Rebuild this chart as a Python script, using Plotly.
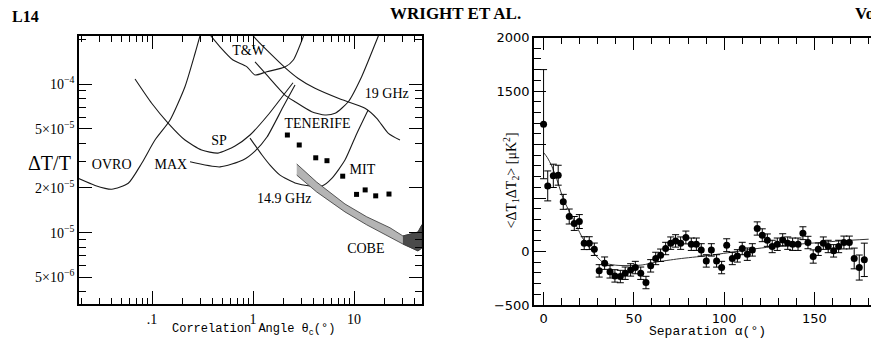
import plotly.graph_objects as go

# ---------------- LEFT PANEL: Delta T / T limits vs correlation angle ----------------
ovro_theta = [0.0186, 0.0273, 0.0399, 0.0582, 0.0791, 0.107, 0.151, 0.212, 0.267, 0.31]
ovro_dt = [2.32e-5, 2.08e-5, 1.96e-5, 2.15e-5, 2.93e-5, 4.20e-5, 5.73e-5, 9.59e-5, 1.61e-4, 2.31e-4]

sp_theta = [0.0679, 0.0993, 0.145, 0.212, 0.310, 0.450, 0.664, 0.934, 1.408, 1.937, 2.490]
sp_dt = [1.08e-4, 7.42e-5, 5.44e-5, 4.20e-5, 3.60e-5, 3.43e-5, 3.83e-5, 4.54e-5, 6.19e-5, 8.18e-5, 1.02e-4]

max_theta = [0.238, 0.471, 0.796, 1.047, 1.376, 1.982, 2.606]
max_dt = [3.00e-5, 2.77e-5, 3.08e-5, 3.54e-5, 4.40e-5, 7.00e-5, 9.85e-5]

tw_theta = [0.343, 0.471, 0.634, 0.866, 1.047, 1.366, 2.074, 2.506, 3.33]
tw_dt = [2.31e-4, 1.78e-4, 1.45e-4, 1.31e-4, 1.15e-4, 1.21e-4, 1.30e-4, 1.45e-4, 2.31e-4]

long_theta = [0.955, 1.088, 1.531, 2.074, 2.810, 4.11, 6.99, 12.85, 16.8, 21.9, 28.5]
long_dt = [2.20e-4, 1.98e-4, 1.57e-4, 1.29e-4, 1.09e-4, 9.35e-5, 8.01e-5, 6.87e-5, 5.88e-5, 4.66e-5, 4.20e-5]

g19_theta = [1.047, 1.417, 2.074, 2.606, 3.813, 5.16, 6.49, 8.78, 11.9, 16.8, 18.4]
g19_dt = [1.41e-4, 1.12e-4, 8.43e-5, 7.60e-5, 6.51e-5, 6.19e-5, 6.35e-5, 7.60e-5, 1.12e-4, 1.98e-4, 2.31e-4]

g149_theta = [0.934, 1.228, 1.474, 1.851, 2.606, 3.667, 4.821, 6.06, 8.14, 10.5, 13.8]
g149_dt = [4.33e-5, 3.33e-5, 2.85e-5, 2.44e-5, 2.16e-5, 2.06e-5, 2.06e-5, 2.33e-5, 3.08e-5, 4.54e-5, 6.68e-5]

cobe_theta = [2.71, 4.27, 8.14, 13.36, 22.7, 30.5, 43.0, 47.0]
cobe_upper = [2.90e-5, 2.19e-5, 1.56e-5, 1.28e-5, 1.08e-5, 9.51e-6, 1.01e-5, 1.13e-5]
cobe_lower = [2.44e-5, 1.88e-5, 1.38e-5, 1.13e-5, 9.36e-6, 8.39e-6, 7.54e-6, 7.89e-6]
cobe_dark_from = 5  # index where the darker end of the band begins

sq_theta = [2.19, 2.87, 4.18, 5.40, 7.73, 10.6, 12.9, 16.4, 22.2]
sq_dt = [4.54e-5, 3.89e-5, 3.19e-5, 3.05e-5, 2.40e-5, 1.81e-5, 1.94e-5, 1.77e-5, 1.82e-5]

label_text = ["T&W", "19 GHz", "TENERIFE", "SP", "MAX", "OVRO", "MIT", "14.9 GHz", "COBE"]
label_theta = [0.903, 21.1, 4.35, 0.461, 0.1535, 0.0399, 12.1, 2.04, 13.1]
label_dt = [1.65e-4, 8.47e-5, 5.32e-5, 4.08e-5, 2.85e-5, 2.85e-5, 2.64e-5, 1.66e-5, 7.66e-6]

left_x_ticks = [0.1, 1, 10]
left_x_ticktext = [".1", "1", "10"]
left_x_minor = [0.02, 0.03, 0.04, 0.05, 0.06, 0.07, 0.08, 0.09,
                0.2, 0.3, 0.4, 0.5, 0.6, 0.7, 0.8, 0.9,
                2, 3, 4, 5, 6, 7, 8, 9, 20, 30, 40]
left_y_ticks = [5e-6, 1e-5, 2e-5, 5e-5, 1e-4]
left_y_ticktext = ["5×10<sup>−6</sup>", "10<sup>−5</sup>", "2×10<sup>−5</sup>",
                   "5×10<sup>−5</sup>", "10<sup>−4</sup>"]
left_y_minor = [4e-6, 6e-6, 7e-6, 8e-6, 9e-6, 3e-5, 4e-5, 6e-5, 7e-5, 8e-5, 9e-5, 2e-4]

# ---------------- RIGHT PANEL: correlation function vs separation ----------------
alpha = [0, 2.3, 5.4, 8.1, 10.9, 14.2, 17.0, 19.8, 22.5, 25.3, 28.1, 30.8, 33.8, 36.8, 39.5,
         42.5, 45.2, 48.2, 50.8, 53.8, 56.7, 59.3, 62.1, 64.8, 67.6, 70.4, 73.1, 75.9, 78.8,
         81.8, 84.6, 87.3, 90.1, 92.9, 95.8, 98.6, 101.4, 104.5, 107.3, 110.0, 112.8, 115.6,
         118.3, 121.1, 123.9, 126.6, 129.4, 132.4, 135.2, 137.9, 140.9, 143.6, 146.4, 149.3,
         152.1, 154.9, 157.6, 160.6, 163.4, 166.3, 169.3, 172.0, 174.8, 177.6]
corr = [1190, 613, 707, 713, 464, 327, 262, 280, 78, 78, 21, -181, -109, -190, -228,
        -234, -203, -172, -150, -203, -290, -134, -65, -35, 28, 78, 99, 78, 131,
        68, 68, 15, -88, 15, -88, -150, 59, -65, -41, 28, -25, 15,
        215, 152, 106, 47, 68, 108, 78, 68, 68, 171, 84, -47,
        21, 78, 47, 6, 47, 84, 84, -65, -150, -78]
corr_err = [510, 140, 109, 93, 70, 70, 65, 65, 60, 60, 58, 58, 58, 58, 58,
            58, 58, 58, 58, 58, 58, 58, 58, 58, 58, 58, 58, 58, 60,
            58, 58, 58, 58, 58, 58, 58, 60, 58, 58, 58, 58, 58,
            62, 60, 58, 58, 58, 58, 58, 58, 58, 60, 58, 62,
            58, 58, 58, 58, 58, 60, 60, 97, 117, 156]

fit_alpha = [0, 2, 4.5, 7.3, 11, 16.4, 22, 27.5, 33, 40, 48, 55, 62, 75, 90, 105, 117, 135, 150, 165, 180]
fit_corr = [925, 880, 800, 676, 489, 302, 115, -9, -103, -128, -132, -125, -100, -68, -40, -5, 25, 60, 80, 100, 115]

right_y_ticks = [-500, 0, 500, 1000, 1500, 2000]
right_y_ticktext = ["−500", "0", "", "", "1500", "2000"]
right_x_ticks = [0, 50, 100, 150]

W, H = 871, 340
SERIF = "Liberation Serif"
MONO = "Liberation Mono"
SANS = "DejaVu Sans"

fig = go.Figure()

line_style = dict(color="#1a1a1a", width=1.1)
for tx, ty in [(ovro_theta, ovro_dt), (sp_theta, sp_dt), (max_theta, max_dt), (tw_theta, tw_dt),
               (long_theta, long_dt), (g19_theta, g19_dt), (g149_theta, g149_dt)]:
    fig.add_trace(go.Scatter(x=tx, y=ty, mode="lines", line=dict(line_style, shape="spline", smoothing=0.6),
                             xaxis="x", yaxis="y", hoverinfo="skip", showlegend=False))

# COBE band (light part then darker end)
band_x = cobe_theta + cobe_theta[::-1]
band_y = cobe_upper + cobe_lower[::-1]
fig.add_trace(go.Scatter(x=band_x, y=band_y, mode="lines", fill="toself", fillcolor="#b4b4b4",
                         line=dict(color="#333", width=0.8), xaxis="x", yaxis="y",
                         hoverinfo="skip", showlegend=False))
dx = cobe_theta[cobe_dark_from:]
fig.add_trace(go.Scatter(x=dx + dx[::-1], y=cobe_upper[cobe_dark_from:] + cobe_lower[cobe_dark_from:][::-1],
                         mode="lines", fill="toself", fillcolor="#4a4a4a",
                         line=dict(color="#333", width=0.6), xaxis="x", yaxis="y",
                         hoverinfo="skip", showlegend=False))

fig.add_trace(go.Scatter(x=sq_theta, y=sq_dt, mode="markers",
                         marker=dict(symbol="square", size=5, color="black"),
                         xaxis="x", yaxis="y", hoverinfo="skip", showlegend=False))

fig.add_trace(go.Scatter(x=label_theta, y=label_dt, mode="text", text=label_text,
                         textposition="middle center",
                         textfont=dict(family=SERIF, size=14, color="black"),
                         xaxis="x", yaxis="y", hoverinfo="skip", showlegend=False))

# Right panel
fig.add_trace(go.Scatter(x=fit_alpha, y=fit_corr, mode="lines",
                         line=dict(color="#333", width=1, shape="spline", smoothing=0.7),
                         xaxis="x2", yaxis="y2", hoverinfo="skip", showlegend=False))
fig.add_trace(go.Scatter(x=alpha, y=corr, mode="markers",
                         marker=dict(symbol="circle", size=7, color="black"),
                         error_y=dict(type="data", array=corr_err, color="black", thickness=1, width=3.5),
                         xaxis="x2", yaxis="y2", hoverinfo="skip", showlegend=False))

axis_common = dict(showline=True, linecolor="black", linewidth=1.5, ticks="inside",
                   tickcolor="black", tickwidth=1.2, showgrid=False, zeroline=False,
                   automargin=False)

fig.update_layout(
    width=W, height=H, autosize=False,
    margin=dict(l=0, r=0, t=0, b=0, pad=0),
    paper_bgcolor="white", plot_bgcolor="white",
    xaxis=dict(axis_common, domain=[79 / W, 422 / W], type="log", range=[-1.7228, 1.6733],
               mirror="ticks", ticklen=13, tickmode="array", tickvals=left_x_ticks,
               ticktext=left_x_ticktext, anchor="y",
               tickfont=dict(family=SERIF, size=14, color="black"), ticklabelstandoff=1,
               minor=dict(tickmode="array", tickvals=left_x_minor, ticks="inside", ticklen=6,
                          tickwidth=1, tickcolor="black", showgrid=False)),
    yaxis=dict(axis_common, domain=[1 - 304 / H, 1 - 36 / H], type="log", range=[-5.4795, -3.677],
               mirror="ticks", ticklen=13, tickmode="array", tickvals=left_y_ticks,
               ticktext=left_y_ticktext, anchor="x",
               tickfont=dict(family=SERIF, size=14, color="black"),
               minor=dict(tickmode="array", tickvals=left_y_minor, ticks="inside", ticklen=7,
                          tickwidth=1, tickcolor="black", showgrid=False)),
    xaxis2=dict(axis_common, domain=[534 / W, 1.0], range=[-5.3, 181.3], mirror="ticks",
                ticklen=13, tickmode="array", tickvals=right_x_ticks, anchor="y2",
                tickfont=dict(family=SANS, size=13, color="black"), ticklabelstandoff=1,
                minor=dict(dtick=10, tick0=0, ticks="inside", ticklen=7, tickwidth=1,
                           tickcolor="black", showgrid=False)),
    yaxis2=dict(axis_common, domain=[1 - 305 / H, 1 - 37.5 / H], range=[-500, 2000], mirror=False,
                ticklen=12, tickmode="array", tickvals=right_y_ticks, ticktext=right_y_ticktext,
                anchor="x2", tickfont=dict(family=SANS, size=13, color="black"),
                minor=dict(dtick=100, tick0=0, ticks="inside", ticklen=7, tickwidth=1,
                           tickcolor="black", showgrid=False)),
)

annotations = [
    dict(text="<b>L14</b>", x=10 / W, y=1 - 16 / H, xanchor="left", yanchor="middle",
         font=dict(family=SERIF, size=16, color="black")),
    dict(text="<b>WRIGHT ET AL.</b>", x=388 / W, y=1 - 14 / H, xanchor="left", yanchor="middle",
         font=dict(family=SERIF, size=17, color="black")),
    dict(text="<b>Vol.</b>", x=853 / W, y=1 - 14 / H, xanchor="left", yanchor="middle",
         font=dict(family=SERIF, size=17, color="black")),
    dict(text="ΔT/T", x=49 / W, y=1 - 162.5 / H, xanchor="center", yanchor="middle",
         font=dict(family=SERIF, size=20, color="black")),
    dict(text="Correlation Angle θ<sub>c</sub>(°)", x=253.5 / W, y=1 - 340 / H,
         xanchor="center", yanchor="bottom", font=dict(family=MONO, size=12, color="black")),
    dict(text="Separation α(°)", x=707.5 / W, y=1 - 341 / H,
         xanchor="center", yanchor="bottom", font=dict(family=MONO, size=13, color="black")),
    dict(text="&lt;ΔT<sub>1</sub>ΔT<sub>2</sub>&gt; [μK<sup>2</sup>]", x=511.5 / W, y=1 - 181 / H,
         xanchor="center", yanchor="middle", textangle=-90,
         font=dict(family=SERIF, size=14, color="black")),
]
for a in annotations:
    a.update(xref="paper", yref="paper", showarrow=False)
fig.update_layout(annotations=annotations)

fig.write_html("out.html")
